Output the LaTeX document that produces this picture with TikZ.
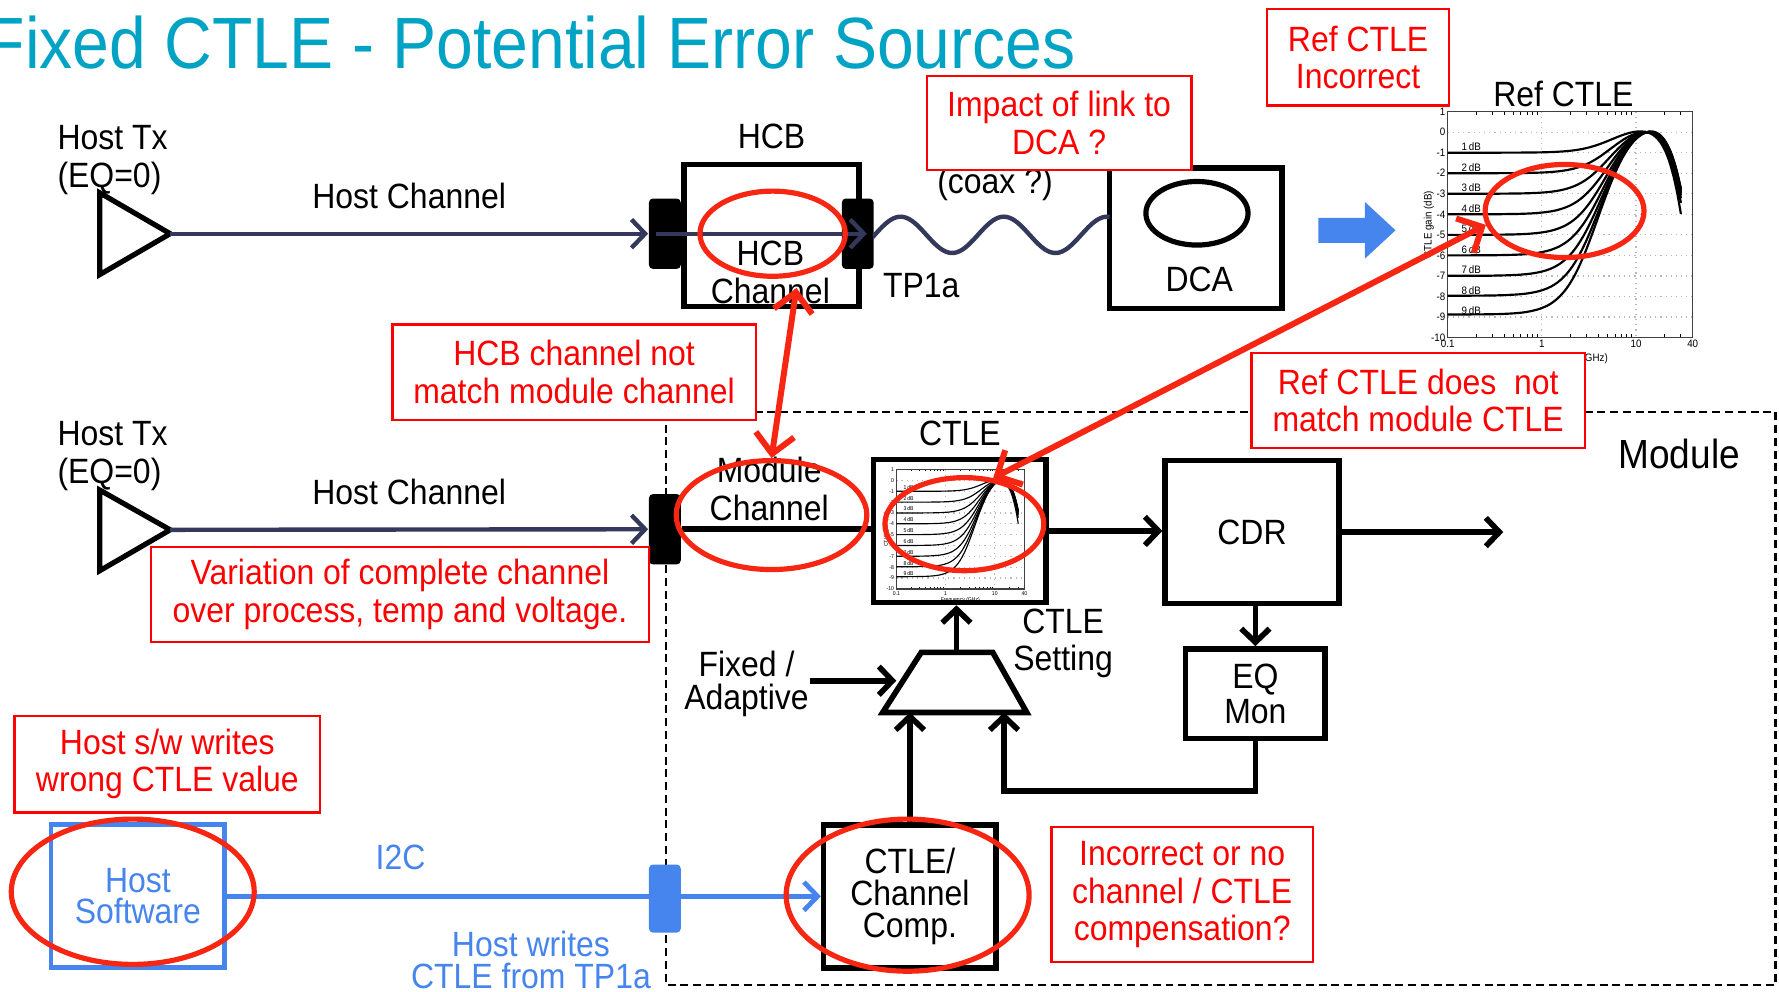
\documentclass[tikz,border=0pt]{standalone}
\usepackage{fontspec}
\setmainfont{Liberation Sans}[FakeStretch=0.91]
\usetikzlibrary{arrows.meta,positioning,shapes.geometric}
\definecolor{titlecyan}{RGB}{0,163,196}
\definecolor{wire}{RGB}{52,56,90}
\definecolor{swblue}{RGB}{70,132,238}
\definecolor{ringred}{RGB}{246,38,18}
\definecolor{gridgray}{RGB}{185,185,185}

\newcommand{\ctleplot}[6]{%
  \pgfmathsetmacro{\xr}{#1+2.602*#2}%
  \pgfmathsetmacro{\yt}{#3-#4}%
  \pgfmathsetmacro{\yb}{#3+10*#4}%
  \foreach \k in {0,...,9}
    \draw[gridgray, densely dotted, line width=0.3pt] (#1,{#3+\k*#4}) -- (\xr,{#3+\k*#4});
  \foreach \d in {1,2}
    \draw[gridgray, densely dotted, line width=0.3pt] ({#1+\d*#2},\yt) -- ({#1+\d*#2},\yb);
  \foreach \m in {2,...,9}{
    \draw[line width=0.25pt] ({#1+log10(\m)*#2},\yb) -- ++(0,{-0.15*#4})
      ({#1+(1+log10(\m))*#2},\yb) -- ++(0,{-0.15*#4})
      ({#1+log10(\m)*#2},\yt) -- ++(0,{0.15*#4})
      ({#1+(1+log10(\m))*#2},\yt) -- ++(0,{0.15*#4});
  }
  \foreach \m in {2,3}
    \draw[line width=0.25pt] ({#1+(2+log10(\m))*#2},\yb) -- ++(0,{-0.15*#4})
      ({#1+(2+log10(\m))*#2},\yt) -- ++(0,{0.15*#4});
  \draw[line width=0.35pt, black!75] (#1,\yt) rectangle (\xr,\yb);
  \foreach \v in {1,0,-1,...,-10}
    \node[anchor=east, inner sep=0.4pt, font=#5] (#6y\v) at (#1,{#3-\v*#4}) {\v};
  \node[anchor=north, inner sep=0.4pt, font=#5] (#6xa) at (#1,\yb) {0.1};
  \node[anchor=north, inner sep=0.4pt, font=#5] (#6xb) at ({#1+#2},\yb) {1};
  \node[anchor=north, inner sep=0.4pt, font=#5] (#6xc) at ({#1+2*#2},\yb) {10};
  \node[anchor=north, inner sep=0.4pt, font=#5] (#6xd) at (\xr,\yb) {40};
  \node[anchor=north, inner sep=0pt, font=#5] (#6freq) at ({(#1+\xr)/2},{\yb+0.75*#4}) {Frequency (GHz)};
  \node[rotate=90, inner sep=0pt, font=#5] (#6gain) at ({#1-0.2*#2},{(\yt+\yb)/2}) {CTLE gain (dB)};
  \foreach \k in {1,...,9}{
    \draw[line width={0.03pt*#4}] plot[domain=-1:1.477, samples=60, smooth, variable=\u]
      ({#1+(\u+1)*#2},{#3-#4*ctln(\u,\k)});
    \node[anchor=south, inner sep=0.3pt, font=#5] (#6db\k) at ({#1+0.25*#2},{#3+\k*#4}) {\k\,dB};
  }%
}

\begin{document}
\begin{tikzpicture}[x=0.01cm, y=-0.01cm,
    >={Straight Barb[length=1.2mm,width=2.5mm]},
    lbl/.style={align=center, inner sep=0pt, font=\fontsize{8.8}{9.4}\selectfont},
    blk/.style={draw, line width=1.4pt, inner sep=0pt},
    plug/.style={fill, rounded corners=1pt, minimum width=0.28cm, minimum height=0.62cm, inner sep=0pt},
    note/.style={draw=red, line width=0.6pt, fill=white, text=red, lbl},
    ring/.style={draw=ringred, line width=1.3pt, ellipse, inner sep=0pt},
    redarrow/.style={ringred, line width=1.5pt, >={Straight Barb[length=1.7mm,width=3.4mm]}, <->},
    wirearrow/.style={wire, line width=1.1pt, ->},
    declare function={rz(\a)=exp(2.302585*max(2.5*(\a-0.7782),-4));
      rp(\a)=exp(2.302585*max(4*(\a-1.4698),-4));
      ctle(\a,\b)=10*log10((exp(-0.2302585*\b)+rz(\a))/(1+rz(\a)))-10*log10(1+rp(\a));
      ctln(\a,\b)=\b*(ctle(\a,\b)-ctle(1.114,\b))/(\b+ctle(1.114,\b));}]
    \useasboundingbox (0,0) rectangle (1568,874);

    \node[anchor=base west, text=titlecyan, inner sep=0pt, font=\fontsize{18.2}{20}\selectfont] (title) at (-14,60) {Fixed CTLE - Potential Error Sources};

    \draw[dash pattern=on 2pt off 1.2pt, line width=0.6pt] (587,363) rectangle (1565,868);
    \node[lbl, font=\fontsize{10.2}{11}\selectfont] (modlbl) at (1480,400) {Module};

    \draw[line width=1.3pt] (88,170) -- (88,242) -- (150,206) -- cycle;
    \coordinate (txa) at (150,206);
    \node[lbl, anchor=west, align=left] (txalbl) at (50,141) {Host Tx\\(EQ=0)};
    \node[blk, minimum width=1.54cm, minimum height=1.25cm] (hcb) at (680,207.5) {};
    \node[plug] (cona) at (586,206) {};
    \node[plug] (conb) at (756,206) {};
    \node[lbl, above=0.11cm of hcb] (hcbtitle) {HCB};
    \node[lbl] (hcbtext) at (679,240) {HCB\\Channel};
    \draw[wirearrow] (txa) -- node[lbl, above=0.2cm, text=black] (hchla) {Host Channel} (cona.west);
    \draw[wirearrow] ([xshift=-0.08cm]cona.center) -- ([xshift=0.08cm]conb.center);
    \node[blk, minimum width=1.52cm, minimum height=1.24cm] (dca) at (1054,210) {};
    \draw[wire, line width=1.1pt] (conb.east) -- plot[domain=771:978, samples=90, smooth] (\x,{207-16*sin((\x-771)*3.956)});
    \node[lbl] (coax) at (877,163) {(coax ?)};
    \node[lbl] (tp1a) at (812,252) {TP1a};
    \draw[line width=1.3pt] (1055,188) ellipse [x radius=0.45cm, y radius=0.28cm];
    \node[lbl] (dcatext) at (1057,246) {DCA};
    \fill[swblue] (1162,192) -- (1203,192) -- (1203,178) -- (1230,203) -- (1203,228) -- (1203,214) -- (1162,214) -- cycle;

    \node[lbl] (reftitle) at (1378,83) {Ref CTLE};
    \ctleplot{1276}{83}{116.5}{18.1}{\fontsize{2.7}{3}\selectfont}{ref}

    \draw[line width=1.3pt] (88,432) -- (88,503) -- (150,467) -- cycle;
    \coordinate (txb) at (150,467);
    \node[lbl, anchor=west, align=left] (txblbl) at (50,402) {Host Tx\\(EQ=0)};
    \node[plug] (conc) at (586,466.5) {};
    \draw[wirearrow] (txb) -- node[lbl, above=0.2cm, text=black] (hchlb) {Host Channel} (conc.west);
    \node[blk, minimum width=1.52cm, minimum height=1.26cm] (ctle) at (846,468) {};
    \node[lbl, above=0.09cm of ctle] (ctletitle) {CTLE};
    \draw[line width=1.4pt] (conc.east) -- (conc.east -| ctle.west);
    \node[lbl] (modch) at (678,431) {Module\\Channel};
    \ctleplot{790}{43.4}{423.5}{9.55}{\fontsize{1.4}{1.6}\selectfont}{mod}

    \node[blk, lbl, minimum width=1.53cm, minimum height=1.26cm] (cdr) at (1103.5,469) {CDR};
    \coordinate (dataout) at (1325,467);
    \draw[line width=1.4pt, ->] (ctle.east) -- (ctle.east -| cdr.west);
    \draw[line width=1.4pt, ->] (cdr.east) -- (cdr.east -| dataout);
    \node[blk, lbl, minimum width=1.23cm, minimum height=0.79cm, font=\fontsize{8.8}{7.7}\selectfont] (eqmon) at (1106.5,611.5) {EQ\\Mon};
    \draw[line width=1.4pt, ->] (cdr.south -| eqmon.north) -- (eqmon.north);

    \draw[line width=1.4pt] (812,575) -- (875,575) -- (905,628) -- (778,628) -- cycle;
    \coordinate (muxout) at (843,575);
    \coordinate (muxa) at (802,628);
    \coordinate (muxb) at (885,628);
    \coordinate (muxin) at (790,600);
    \coordinate (fb) at (885,697);
    \draw[line width=1.4pt, ->] (muxout) -- (muxout |- ctle.south);
    \node[lbl, font=\fontsize{8.8}{8.3}\selectfont] (fixad) at (658,603) {Fixed /\\Adaptive};
    \draw[line width=1.4pt, ->] (fixad.east |- muxin) -- (muxin);
    \node[lbl] (ctleset) at (937,567) {CTLE\\Setting};
    \node[blk, lbl, minimum width=1.52cm, minimum height=1.26cm, font=\fontsize{8.8}{8.1}\selectfont] (comp) at (802,790) {CTLE/\\Channel\\Comp.};
    \draw[line width=1.4pt, ->] (comp.north) -- (muxa);
    \draw[line width=1.4pt, ->] (eqmon.south) |- (fb) -- (muxb);

    \node[draw=swblue, line width=1.2pt, text=swblue, lbl, minimum width=1.53cm, minimum height=1.26cm, font=\fontsize{8.8}{7.7}\selectfont] (hsw) at (121.5,790) {Host\\Software};
    \draw[swblue, line width=1.2pt, ->] (hsw.east) -- (comp.west);
    \node[fill=swblue, rounded corners=1pt, minimum width=0.28cm, minimum height=0.6cm, inner sep=0pt] (cond) at (586,792) {};
    \node[lbl, text=swblue] (i2c) at (353,756) {I2C};
    \node[lbl, text=swblue, font=\fontsize{8.8}{8}\selectfont] (hwrites) at (468,846) {Host writes\\CTLE from TP1a};

    \node[note, minimum width=2.33cm, minimum height=0.83cm] (nlink) at (933.5,108.5) {Impact of link to\\DCA ?};
    \node[note, minimum width=1.6cm, minimum height=0.85cm] (nref) at (1197,50.5) {Ref CTLE\\Incorrect};
    \node[note, minimum width=3.2cm, minimum height=0.84cm] (nhcb) at (506,328) {HCB channel not\\match module channel};
    \node[note, minimum width=2.94cm, minimum height=0.84cm] (nmatch) at (1250,353) {Ref CTLE does~ not\\match module CTLE};
    \node[note, minimum width=4.39cm, minimum height=0.84cm] (nvar) at (352.5,524) {Variation of complete channel\\over process, temp and voltage.};
    \node[note, minimum width=2.3cm, minimum height=1.19cm] (ncomp) at (1042,788.5) {Incorrect or no\\channel / CTLE\\compensation?};
    \node[note, minimum width=2.69cm, minimum height=0.85cm] (nsw) at (147.5,673.5) {Host s/w writes\\wrong CTLE value};

    \node[ring, minimum width=1.28cm, minimum height=0.75cm] (hcbring) at (681,206) {};
    \node[ring, minimum width=1.68cm, minimum height=0.96cm] (modring) at (680,454) {};
    \node[ring, minimum width=1.4cm, minimum height=0.82cm] (ctlering) at (850,462) {};
    \node[ring, minimum width=1.4cm, minimum height=0.82cm] (refring) at (1379,186) {};
    \node[ring, minimum width=2.14cm, minimum height=1.34cm] (compring) at (800,789) {};
    \node[ring, minimum width=2.14cm, minimum height=1.28cm] (swring) at (117,786) {};

    \draw[redarrow] ([xshift=0.21cm,yshift=-0.08cm]hcbring.south) -- (modring.north);
    \draw[redarrow] (ctlering.58) -- (refring.190);
\end{tikzpicture}
\end{document}
